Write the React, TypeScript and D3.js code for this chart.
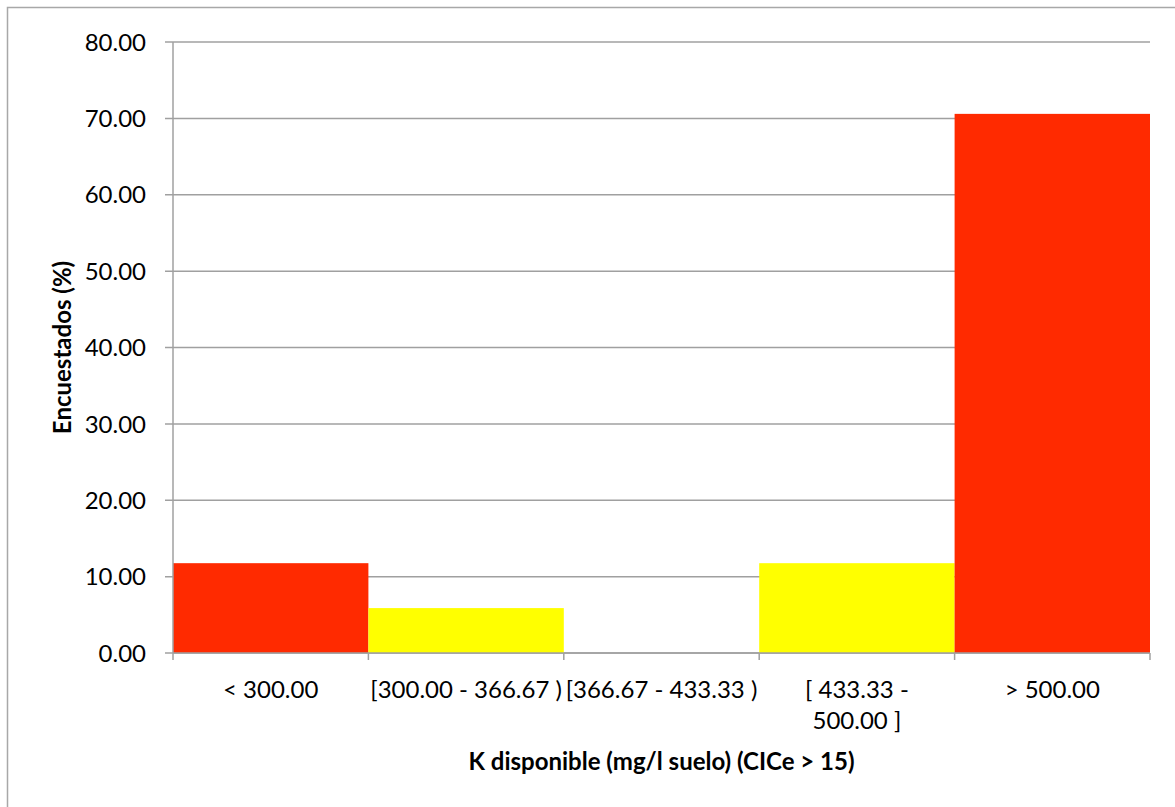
import { useEffect, useRef } from "react";
import * as d3 from "d3";

const categories = [
  "< 300.00",
  "[300.00 - 366.67 )",
  "[366.67 - 433.33 )",
  "[ 433.33 -\n500.00 ]",
  "> 500.00",
];
const values = [11.76, 5.88, 0, 11.76, 70.59];
const barColors = ["#ff2a00", "#ffff00", "#ffff00", "#ffff00", "#ff2a00"];
const yTicks = [0, 10, 20, 30, 40, 50, 60, 70, 80];

const WIDTH = 1175;
const HEIGHT = 807;
const FONT = "Lato, 'Open Sans', sans-serif";
const GRID = "#a0a0a0";

export default function App() {
  const ref = useRef<SVGSVGElement | null>(null);

  useEffect(() => {
    if (!ref.current) return;
    const svg = d3.select(ref.current);
    svg.selectAll("*").remove();

    const margin = { top: 42, right: 25, bottom: 154, left: 173 };
    const innerW = WIDTH - margin.left - margin.right;
    const innerH = HEIGHT - margin.top - margin.bottom;

    // outer chart frame
    svg
      .append("rect")
      .attr("x", 7.5)
      .attr("y", 7.5)
      .attr("width", WIDTH)
      .attr("height", HEIGHT)
      .attr("fill", "#fff")
      .attr("stroke", "#a8a8a8")
      .attr("stroke-width", 1.5);

    const g = svg
      .append("g")
      .attr("transform", `translate(${margin.left}, ${margin.top})`);

    const x = d3
      .scaleBand<string>()
      .domain(categories)
      .range([0, innerW])
      .paddingInner(0)
      .paddingOuter(0);

    const y = d3.scaleLinear().domain([0, 80]).range([innerH, 0]);

    // gridlines + y ticks
    g.selectAll(".grid")
      .data(yTicks)
      .enter()
      .append("line")
      .attr("x1", -8)
      .attr("x2", innerW)
      .attr("y1", (d) => y(d))
      .attr("y2", (d) => y(d))
      .attr("stroke", GRID)
      .attr("stroke-width", 1.5);

    g.selectAll(".ylab")
      .data(yTicks)
      .enter()
      .append("text")
      .attr("x", -27)
      .attr("y", (d) => y(d))
      .attr("dy", "0.36em")
      .attr("text-anchor", "end")
      .attr("font-family", FONT)
      .attr("font-size", "24px")
      .attr("fill", "#000")
      .text((d) => d.toFixed(2));

    // bars
    g.selectAll(".bar")
      .data(values)
      .enter()
      .append("rect")
      .attr("x", (_, i) => x(categories[i]) as number)
      .attr("y", (d) => y(d))
      .attr("width", x.bandwidth())
      .attr("height", (d) => innerH - y(d))
      .attr("fill", (_, i) => barColors[i]);

    // y axis line
    g.append("line")
      .attr("x1", 0)
      .attr("x2", 0)
      .attr("y1", 0)
      .attr("y2", innerH)
      .attr("stroke", GRID)
      .attr("stroke-width", 1.5);

    // x axis line and ticks
    g.append("line")
      .attr("x1", 0)
      .attr("x2", innerW)
      .attr("y1", innerH)
      .attr("y2", innerH)
      .attr("stroke", GRID)
      .attr("stroke-width", 1.5);

    const tickPos = categories.map((c) => x(c) as number).concat([innerW]);
    g.selectAll(".xtick")
      .data(tickPos)
      .enter()
      .append("line")
      .attr("x1", (d) => d)
      .attr("x2", (d) => d)
      .attr("y1", innerH)
      .attr("y2", innerH + 7)
      .attr("stroke", GRID)
      .attr("stroke-width", 1.5);

    // x labels
    const xl = g
      .selectAll(".xlab")
      .data(categories)
      .enter()
      .append("text")
      .attr("text-anchor", "middle")
      .attr("font-family", FONT)
      .attr("font-size", "24px")
      .attr("fill", "#000")
      .attr("transform", (d) => `translate(${(x(d) as number) + x.bandwidth() / 2}, ${innerH + 45})`);
    xl.each(function (d) {
      const t = d3.select(this);
      d.split("\n").forEach((line, i) => {
        t.append("tspan").attr("x", 0).attr("y", i * 31).text(line);
      });
    });

    // axis titles
    g.append("text")
      .attr("x", innerW / 2)
      .attr("y", innerH + 117)
      .attr("text-anchor", "middle")
      .attr("font-family", FONT)
      .attr("font-size", "24px")
      .attr("font-weight", "bold")
      .attr("fill", "#000")
      .text("K disponible (mg/l suelo) (CICe > 15)");

    g.append("text")
      .attr("transform", `translate(${-102}, ${innerH / 2}) rotate(-90)`)
      .attr("text-anchor", "middle")
      .attr("font-family", FONT)
      .attr("font-size", "24px")
      .attr("font-weight", "bold")
      .attr("fill", "#000")
      .text("Encuestados (%)");
  }, []);

  return (
    <svg
      ref={ref}
      width={WIDTH}
      height={HEIGHT}
      style={{ position: "absolute", top: 0, left: 0, display: "block" }}
    />
  );
}
